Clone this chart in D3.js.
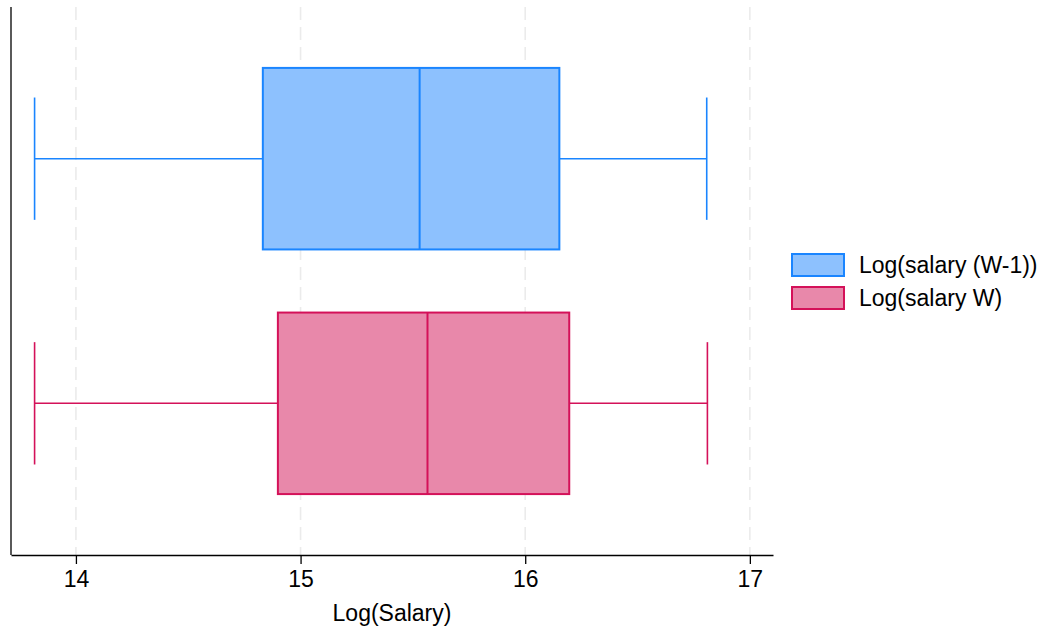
<!DOCTYPE html>
<html>
<head>
<meta charset="utf-8">
<script src="https://cdn.jsdelivr.net/npm/d3@7"></script>
<style>
  html, body { margin: 0; padding: 0; background: #ffffff; }
  svg { display: block; font-family: "Liberation Sans", Arial, Helvetica, sans-serif; }
</style>
</head>
<body>
<svg id="chart" width="1040" height="628"></svg>
<script>
// Box-plot summaries of log salary, one row per series
const seriesNames = ["Log(salary (W-1))", "Log(salary W)"];
const whiskerLow  = [13.816, 13.816];
const quartile1   = [14.832, 14.899];
const medians     = [15.530, 15.565];
const quartile3   = [16.152, 16.196];
const whiskerHigh = [16.808, 16.811];
const strokeColors = ["#1a85ff", "#d41159"];
const fillColors   = ["#8dc1fe", "#e888aa"];
const xTicks = [14, 15, 16, 17];
const xTitle = "Log(Salary)";

const svg = d3.select("#chart");
const plot = { left: 11, right: 773, top: 7, bottom: 555 };
const fontSize = 23;

const x = d3.scaleLinear().domain([13.711, 17.103]).range([plot.left, plot.right]);
const y = d3.scalePoint().domain(seriesNames).range([plot.top, plot.bottom]).padding(0.62);
const step = y.step();
const boxH = step * 0.742;
const capH = step * 0.5;

const rows = seriesNames.map((name, i) => ({
  name, lo: whiskerLow[i], q1: quartile1[i], med: medians[i],
  q3: quartile3[i], hi: whiskerHigh[i], stroke: strokeColors[i], fill: fillColors[i]
}));

// dashed vertical gridlines
svg.append("g").selectAll("line").data(xTicks).join("line")
  .attr("x1", d => x(d)).attr("x2", d => x(d))
  .attr("y1", plot.top).attr("y2", plot.bottom)
  .attr("stroke", "#ebebeb").attr("stroke-width", 1.6)
  .attr("stroke-dasharray", "13,7");

const g = svg.append("g").selectAll("g").data(rows).join("g");

// whiskers
g.append("line")
  .attr("x1", d => x(d.lo)).attr("x2", d => x(d.q1))
  .attr("y1", d => y(d.name)).attr("y2", d => y(d.name))
  .attr("stroke", d => d.stroke).attr("stroke-width", 1.6);
g.append("line")
  .attr("x1", d => x(d.q3)).attr("x2", d => x(d.hi))
  .attr("y1", d => y(d.name)).attr("y2", d => y(d.name))
  .attr("stroke", d => d.stroke).attr("stroke-width", 1.6);
// caps
g.append("line")
  .attr("x1", d => x(d.lo)).attr("x2", d => x(d.lo))
  .attr("y1", d => y(d.name) - capH / 2).attr("y2", d => y(d.name) + capH / 2)
  .attr("stroke", d => d.stroke).attr("stroke-width", 1.6);
g.append("line")
  .attr("x1", d => x(d.hi)).attr("x2", d => x(d.hi))
  .attr("y1", d => y(d.name) - capH / 2).attr("y2", d => y(d.name) + capH / 2)
  .attr("stroke", d => d.stroke).attr("stroke-width", 1.6);
// boxes
g.append("rect")
  .attr("x", d => x(d.q1)).attr("width", d => x(d.q3) - x(d.q1))
  .attr("y", d => y(d.name) - boxH / 2).attr("height", boxH)
  .attr("fill", d => d.fill).attr("stroke", d => d.stroke).attr("stroke-width", 2);
// medians
g.append("line")
  .attr("x1", d => x(d.med)).attr("x2", d => x(d.med))
  .attr("y1", d => y(d.name) - boxH / 2).attr("y2", d => y(d.name) + boxH / 2)
  .attr("stroke", d => d.stroke).attr("stroke-width", 2);

// axes
const xAxis = svg.append("g")
  .attr("transform", `translate(0,${plot.bottom})`)
  .call(d3.axisBottom(x).tickValues(xTicks).tickFormat(d3.format("d"))
    .tickSizeInner(9).tickSizeOuter(0).tickPadding(7));
xAxis.attr("font-size", fontSize).attr("font-family", "'Liberation Sans', Arial, sans-serif");
xAxis.select(".domain").attr("stroke", "#000").attr("stroke-width", 1.3);
xAxis.selectAll(".tick line").attr("stroke", "#000").attr("stroke-width", 1.3);
xAxis.selectAll(".tick text").attr("fill", "#000");

svg.append("line")
  .attr("x1", plot.left).attr("x2", plot.left)
  .attr("y1", plot.top).attr("y2", plot.bottom)
  .attr("stroke", "#000").attr("stroke-width", 1.3);

svg.append("text")
  .attr("x", (plot.left + plot.right) / 2).attr("y", 621)
  .attr("text-anchor", "middle").attr("font-size", fontSize).attr("fill", "#000")
  .text(xTitle);

// legend
const legend = svg.append("g").selectAll("g").data(rows).join("g")
  .attr("transform", (d, i) => `translate(792,${254 + i * 33})`);
legend.append("rect")
  .attr("x", 0).attr("y", 0).attr("width", 52).attr("height", 22)
  .attr("fill", d => d.fill).attr("stroke", d => d.stroke).attr("stroke-width", 2);
legend.append("text")
  .attr("x", 67).attr("y", 11).attr("dy", "0.36em")
  .attr("font-size", fontSize).attr("fill", "#000")
  .text(d => d.name);
</script>
</body>
</html>
